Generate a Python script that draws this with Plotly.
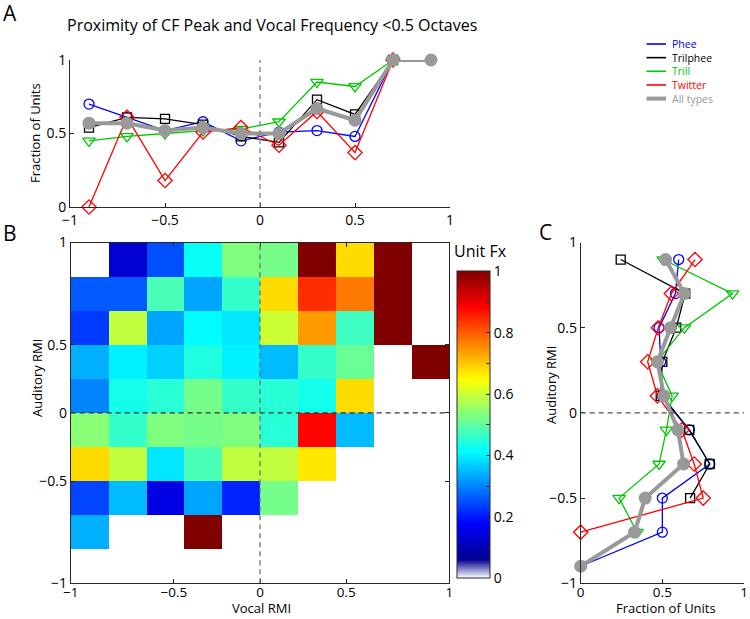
import plotly.graph_objects as go

# ---------------- Panel A data ----------------
A_X = [-0.9, -0.7, -0.5, -0.3, -0.1, 0.1, 0.3, 0.5, 0.7, 0.9]
A_PHEE = [0.70, 0.61, 0.52, 0.58, 0.45, 0.51, 0.52, 0.48, 1.0, None]
A_TRILPHEE = [0.54, 0.61, 0.60, 0.56, 0.48, 0.44, 0.73, 0.63, 1.0, None]
A_TRILL = [0.45, 0.48, 0.50, 0.52, 0.53, 0.58, 0.85, 0.82, 1.0, None]
A_TWITTER = [0.0, 0.61, 0.18, 0.51, 0.54, 0.42, 0.65, 0.37, 1.0, None]
A_ALL = [0.57, 0.57, 0.52, 0.54, 0.50, 0.50, 0.67, 0.59, 1.0, 1.0]
A_TICKS = [-1, -0.5, 0, 0.5, 1]
A_YTICKS = [0, 0.5, 1]

# ---------------- Panel B data ----------------
B_X = [-0.9, -0.7, -0.5, -0.3, -0.1, 0.1, 0.3, 0.5, 0.7, 0.9]
B_Y = [0.9, 0.7, 0.5, 0.3, 0.1, -0.1, -0.3, -0.5, -0.7, -0.9]
B_Z = [
    [None, 0.13, 0.25, 0.42, 0.53, 0.52, 1.0, 0.68, 1.0, None],
    [0.26, 0.26, 0.48, 0.33, 0.46, 0.68, 0.84, 0.77, 1.0, None],
    [0.23, 0.59, 0.33, 0.41, 0.39, 0.60, 0.74, 0.47, 1.0, None],
    [0.34, 0.40, 0.37, 0.44, 0.40, 0.35, 0.46, 0.51, None, 1.0],
    [0.30, 0.43, 0.45, 0.52, 0.46, 0.45, 0.43, 0.68, None, None],
    [0.54, 0.46, 0.53, 0.52, 0.53, 0.45, 0.88, 0.35, None, None],
    [0.68, 0.59, 0.39, 0.48, 0.59, 0.59, 0.67, None, None, None],
    [0.24, 0.35, 0.15, 0.33, 0.21, 0.52, None, None, None, None],
    [0.34, None, None, 1.0, None, None, None, None, None, None],
    [None, None, None, None, None, None, None, None, None, None],
]
B_TICK_LABELS = ["\u22121", "\u22120.5", "0", "0.5", "1"]
B_XTICK_POS = [-1, -0.455, 0, 0.455, 1]
B_YTICK_POS = [-1, -0.4, 0, 0.4, 1]
CB_TICKS = [0, 0.1, 0.2, 0.3, 0.4, 0.5, 0.6, 0.7, 0.8, 0.9, 1.0]
CB_LABELS = ["0", "", "0.2", "", "0.4", "", "0.6", "", "0.8", "", "1"]

# ---------------- Panel C data ----------------
C_Y = [0.9, 0.7, 0.5, 0.3, 0.1, -0.1, -0.3, -0.5, -0.7, -0.9]
C_PHEE = [0.60, 0.58, 0.48, 0.49, 0.50, 0.665, 0.79, 0.50, 0.50, 0.0]
C_TRILPHEE = [0.245, 0.64, 0.585, 0.50, 0.49, 0.665, 0.79, 0.67, None, None]
C_TRILL = [0.505, 0.93, 0.635, 0.465, 0.56, 0.525, 0.48, 0.235, 0.345, None]
C_TWITTER = [0.70, 0.555, 0.475, 0.41, 0.47, 0.62, 0.695, 0.75, 0.0, None]
C_ALL = [0.52, 0.635, 0.55, 0.47, 0.51, 0.595, 0.63, 0.395, 0.33, 0.0]
C_XTICKS = [0, 0.5, 1]
C_YTICKS = [-1, -0.5, 0, 0.5, 1]

SERIES = ["Phee", "Trilphee", "Trill", "Twitter", "All types"]
COLORS = ["#0000FF", "#000000", "#00C800", "#FF0000", "#999999"]
SYMBOLS = ["circle-open", "square-open", "triangle-down-open", "diamond-open", "circle"]
SIZES = [10, 9, 11, 11, 13]

W, H = 750, 619
FONT = "Open Sans"
AX = "#262626"
TICK_FS = 14
TITLE_FS = 13


def px(xp):
    return xp / W


def py(yp):
    return 1 - yp / H


# jet colormap with a white fade at the bottom
def jet_scale():
    fade = 0.06
    stops = [(0.0, "rgb(255,255,255)"), (fade, "rgb(0,0,143)")]
    jet = [(0.125, "rgb(0,0,255)"), (0.375, "rgb(0,255,255)"),
           (0.625, "rgb(255,255,0)"), (0.875, "rgb(255,0,0)"), (1.0, "rgb(128,0,0)")]
    for j, c in jet:
        stops.append((fade + (1 - fade) * j, c))
    return [[p, c] for p, c in stops]


fig = go.Figure()

a_series = [A_PHEE, A_TRILPHEE, A_TRILL, A_TWITTER, A_ALL]
c_series = [C_PHEE, C_TRILPHEE, C_TRILL, C_TWITTER, C_ALL]

for name, vals, col, sym, sz in zip(SERIES, a_series, COLORS, SYMBOLS, SIZES):
    is_all = name == "All types"
    fig.add_trace(go.Scatter(
        x=A_X, y=vals, mode="lines+markers", name=name, showlegend=False,
        line=dict(color=col, width=4 if is_all else 1.3),
        marker=dict(symbol=sym, size=sz, color=col,
                    line=dict(color=col, width=0 if is_all else 1.3)),
        cliponaxis=False, xaxis="x", yaxis="y"))

fig.add_trace(go.Heatmap(
    x=B_X, y=B_Y, z=B_Z, zmin=0, zmax=1, colorscale=jet_scale(),
    xaxis="x2", yaxis="y2", hoverongaps=False,
    colorbar=dict(
        x=px(457.3), xanchor="left", xpad=0, y=py(578.3), yanchor="bottom",
        ypad=0, len=(578.3 - 271.7) / H, lenmode="fraction", thickness=33,
        thicknessmode="pixels", outlinecolor=AX, outlinewidth=1,
        tickvals=CB_TICKS, ticktext=CB_LABELS, ticks="inside", ticklen=4,
        tickcolor=AX, tickfont=dict(size=TICK_FS, color="#000", family=FONT))))

for name, vals, col, sym, sz in zip(SERIES, c_series, COLORS, SYMBOLS, SIZES):
    is_all = name == "All types"
    fig.add_trace(go.Scatter(
        x=vals, y=C_Y, mode="lines+markers", name=name, showlegend=False,
        line=dict(color=col, width=4 if is_all else 1.3),
        marker=dict(symbol=sym, size=sz, color=col,
                    line=dict(color=col, width=0 if is_all else 1.3)),
        cliponaxis=False, xaxis="x3", yaxis="y3"))

axis_common = dict(showline=True, linecolor=AX, linewidth=1, ticks="inside",
                   ticklen=4, tickcolor=AX, showgrid=False, zeroline=False,
                   automargin=False,
                   tickfont=dict(size=TICK_FS, color="#000", family=FONT))
bottom_axis = dict(axis_common, tickfont=dict(size=13.5, color="#000", family=FONT))

fig.update_layout(
    width=W, height=H, margin=dict(l=0, r=0, t=0, b=0, autoexpand=False),
    paper_bgcolor="white", plot_bgcolor="white",
    font=dict(family=FONT, color="#000"),
    showlegend=False,
    xaxis=dict(domain=[px(70), px(450)], range=[-1, 1], tickvals=A_TICKS,
               anchor="y", **axis_common),
    yaxis=dict(domain=[py(207), py(60)], range=[0, 1], tickvals=A_YTICKS,
               anchor="x", **axis_common),
    xaxis2=dict(domain=[px(70.7), px(449.3)], range=[-1, 1], tickvals=B_XTICK_POS,
                ticktext=B_TICK_LABELS, anchor="y2", mirror="ticks",
                ticklabelstandoff=-4, **bottom_axis),
    yaxis2=dict(domain=[py(583.3), py(242.5)], range=[-1, 1], tickvals=B_YTICK_POS,
                ticktext=B_TICK_LABELS, anchor="x2", mirror="ticks", **axis_common),
    xaxis3=dict(domain=[px(580.7), px(744)], range=[0, 1], tickvals=C_XTICKS,
                anchor="y3", ticklabelstandoff=-4, **bottom_axis),
    yaxis3=dict(domain=[py(583.3), py(242.5)], range=[-1, 1], tickvals=C_YTICKS,
                anchor="x3", **axis_common),
)

dash = "5px,4px"
fig.add_shape(type="line", xref="x", yref="y", x0=0, x1=0, y0=0, y1=1,
              line=dict(color="#808080", width=1.3, dash=dash))
fig.add_shape(type="line", xref="x2", yref="y2", x0=0, x1=0, y0=-1, y1=1,
              line=dict(color="#707070", width=1.3, dash=dash))
fig.add_shape(type="line", xref="x2", yref="y2", x0=-1, x1=1, y0=0, y1=0,
              line=dict(color="#303030", width=1.3, dash=dash))
fig.add_shape(type="line", xref="x3", yref="y3", x0=0, x1=1, y0=0, y1=0,
              line=dict(color="#505050", width=1.3, dash=dash))

# legend (lines only, coloured text) -- one text block, one sample line per entry
LEG_FS = 10.5
LEG_STEP = LEG_FS * 1.3
leg_top = 44
leg_rows = [leg_top + i * LEG_STEP for i in range(len(SERIES))]
for name, col, yy in zip(SERIES, COLORS, leg_rows):
    fig.add_shape(type="line", xref="paper", yref="paper",
                  x0=px(646.5), x1=px(666), y0=py(yy), y1=py(yy),
                  line=dict(color=col, width=4 if name == "All types" else 1.6))
legend_text = "<br>".join(f'<span style="color:{c}">{n}</span>' for n, c in zip(SERIES, COLORS))
fig.add_annotation(text=legend_text, x=px(670), y=py((leg_rows[0] + leg_rows[-1]) / 2),
                   xref="paper", yref="paper", xanchor="left", yanchor="middle",
                   align="left", showarrow=False,
                   font=dict(size=LEG_FS, color="#000", family=FONT))


def note(text, x, y, size=TITLE_FS, angle=0, xanchor="center", yanchor="middle"):
    fig.add_annotation(text=text, x=px(x), y=py(y), xref="paper", yref="paper",
                       xanchor=xanchor, yanchor=yanchor, showarrow=False,
                       textangle=angle, font=dict(size=size, color="#000", family=FONT))


note("Proximity of CF Peak and Vocal Frequency &lt;0.5 Octaves", 272, 25, size=16)
note("A", 10, 13, size=21)
note("B", 10, 233, size=21)
note("C", 545, 232, size=21)
note("Unit Fx", 480, 251, size=16)
note("Fraction of Units", 35, 133, angle=-90)
note("Auditory RMI", 37, 378, angle=-90)
note("Vocal RMI", 261, 619, yanchor="bottom")
note("Auditory RMI", 551, 385, angle=-90)
note("Fraction of Units", 666, 619, yanchor="bottom")

# the page body has a default 8px margin; remove it so the figure sits at (0,0)
fig.write_html("out.html", config={"displayModeBar": False},
               post_script="document.body.style.margin='0px';")
